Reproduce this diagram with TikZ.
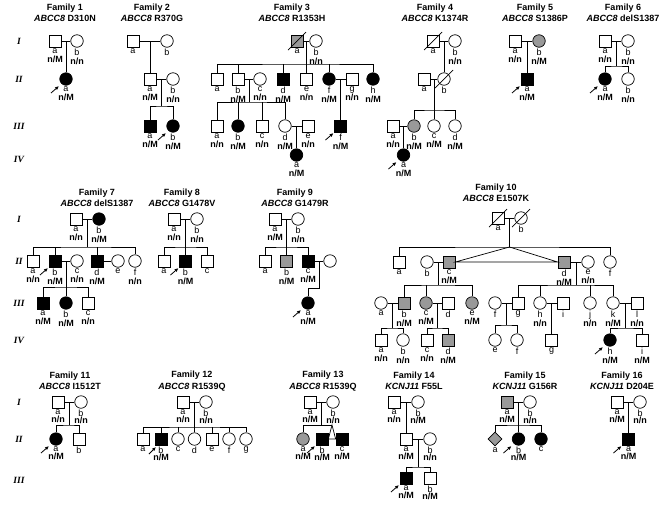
\documentclass[tikz,border=0pt]{standalone}
\usepackage{fontspec}
\setmainfont{Liberation Sans}
\newfontfamily\genfont{Liberation Serif}
\usetikzlibrary{arrows.meta,shapes.geometric,calc}

\begin{document}
\begin{tikzpicture}[x=1pt,y=-1pt,line width=.7pt,
  sq/.style={draw,rectangle,minimum size=12pt,inner sep=0pt,fill=white},
  ci/.style={draw,circle,minimum size=12.5pt,inner sep=0pt,fill=white},
  dm/.style={draw,diamond,minimum size=14pt,inner sep=0pt},
  aff/.style={fill=black},
  car/.style={fill=black!40},
  lab/.style={font=\fontsize{9}{9}\selectfont,align=center,inner sep=1pt},
  lb/.style={label={[lab]below:{\rule{0pt}{5pt}#1}}},
  lbl/.style 2 args={label={[lab]below:{\rule{0pt}{5pt}#1\\\textbf{#2}}}},
  ttl/.style={font=\bfseries\fontsize{9}{11.5}\selectfont,align=center},
  gen/.style={font=\genfont\bfseries\itshape\fontsize{9.5}{10}\selectfont},
  pb/.style={-{Latex[length=4pt,width=3.5pt]},line width=.8pt}
]
\useasboundingbox (0,0) rectangle (664,507);

\foreach \g/\y [count=\n] in {I/41,II/79,III/126,IV/159,I/219,II/261,III/303,IV/340,I/402,II/439,III/480}
  \node[gen] (g\n) at (19,\y) {\g};

\node[ttl] (t1) at (65,13) {Family 1\\\textit{ABCC8} D310N};
\node[ttl] (t2) at (152,13) {Family 2\\\textit{ABCC8} R370G};
\node[ttl] (t3) at (292,13) {Family 3\\\textit{ABCC8} R1353H};
\node[ttl] (t4) at (435,13) {Family 4\\\textit{ABCC8} K1374R};
\node[ttl] (t5) at (535,13) {Family 5\\\textit{ABCC8} S1386P};
\node[ttl] (t6) at (623,13) {Family 6\\\textit{ABCC8} delS1387};
\node[ttl] (t7) at (97,198) {Family 7\\\textit{ABCC8} delS1387};
\node[ttl] (t8) at (182,198) {Family 8\\\textit{ABCC8} G1478V};
\node[ttl] (t9) at (295,198) {Family 9\\\textit{ABCC8} G1479R};
\node[ttl] (t10) at (496,193) {Family 10\\\textit{ABCC8} E1507K};
\node[ttl] (t11) at (70,381) {Family 11\\\textit{ABCC8} I1512T};
\node[ttl] (t12) at (192,381) {Family 12\\\textit{ABCC8} R1539Q};
\node[ttl] (t13) at (323,381) {Family 13\\\textit{ABCC8} R1539Q};
\node[ttl] (t14) at (414,381) {Family 14\\\textit{KCNJ11} F55L};
\node[ttl] (t15) at (525,381) {Family 15\\\textit{KCNJ11} G156R};
\node[ttl] (t16) at (622,381) {Family 16\\\textit{KCNJ11} D204E};

\node[sq,lbl={a}{n/M}] (f1Ia) at (55,41) {};
\node[ci,lbl={b}{n/n}] (f1Ib) at (77,41) {};
\node[ci,aff,lbl={a}{n/M}] (f1IIa) at (66,79) {};
\coordinate (f1m) at ($(f1Ia)!.5!(f1Ib)$);
\draw (f1Ia) -- (f1Ib) (f1m) -- (f1IIa);

\node[sq,lb=a] (f2Ia) at (133,41) {};
\node[ci,lb=b] (f2Ib) at (167,41) {};
\node[sq,lbl={a}{n/M}] (f2IIa) at (150,79) {};
\node[ci,lbl={b}{n/n}] (f2IIb) at (173,79) {};
\node[sq,aff,lbl={a}{n/M}] (f2IIIa) at (150,126) {};
\node[ci,aff,lbl={b}{n/M}] (f2IIIb) at (173,126) {};
\coordinate (f2m) at ($(f2Ia)!.5!(f2Ib)$);
\coordinate (f2n) at ($(f2IIa)!.5!(f2IIb)$);
\coordinate (f2s) at (161.5,106);
\draw (f2Ia) -- (f2Ib) (f2m) -- (f2IIa) (f2IIa) -- (f2IIb) (f2n) -- (f2s);
\draw (f2IIIa) |- (f2s) -| (f2IIIb);

\node[sq,car,lb=a] (f3Ia) at (297,41) {};
\node[ci,lbl={b}{n/n}] (f3Ib) at (316,41) {};
\node[sq,lb=a] (f3IIa) at (217,79) {};
\node[sq,lbl={b}{n/M}] (f3IIb) at (238,79) {};
\node[ci,lbl={c}{n/n}] (f3IIc) at (260,79) {};
\node[sq,aff,lbl={d}{n/M}] (f3IId) at (283,79) {};
\node[sq,lbl={e}{n/n}] (f3IIe) at (306.5,79) {};
\node[ci,aff,lbl={f}{n/M}] (f3IIf) at (329,79) {};
\node[sq,lbl={g}{n/n}] (f3IIg) at (352,79) {};
\node[ci,aff,lbl={h}{n/M}] (f3IIh) at (373,79) {};
\node[sq,lbl={a}{n/n}] (f3IIIa) at (217,126) {};
\node[ci,aff,lbl={b}{n/M}] (f3IIIb) at (238,126) {};
\node[sq,lbl={c}{n/n}] (f3IIIc) at (262,126) {};
\node[ci,lbl={d}{n/M}] (f3IIId) at (285,126) {};
\node[sq,lbl={e}{n/n}] (f3IIIe) at (308,126) {};
\node[sq,aff,lbl={f}{n/M}] (f3IIIf) at (340.5,126) {};
\node[ci,aff,lbl={a}{n/M}] (f3IVa) at (296.5,155) {};
\coordinate (f3m) at ($(f3Ia)!.5!(f3Ib)$);
\coordinate (f3s) at (306.5,64);
\coordinate (f3n) at ($(f3IIb)!.5!(f3IIc)$);
\coordinate (f3t) at (249,102);
\coordinate (f3o) at ($(f3IIf)!.5!(f3IIg)$);
\coordinate (f3p) at ($(f3IIId)!.5!(f3IIIe)$);
\draw (f3Ia) -- (f3Ib) (f3m) -- (f3IIe);
\draw (f3IIa) |- (f3s) -| (f3IIh);
\foreach \k in {b,d,f} \draw (f3II\k) -- (f3II\k |- f3s);
\draw (f3IIb) -- (f3IIc) (f3IIf) -- (f3IIg) (f3IIId) -- (f3IIIe);
\draw (f3n) -- (f3t) (f3o) -- (f3IIIf) (f3p) -- (f3IVa);
\draw (f3IIIa) |- (f3t) -| (f3IIId);
\foreach \k in {b,c} \draw (f3III\k) -- (f3III\k |- f3t);

\node[sq,lb=a] (f4Ia) at (433,41) {};
\node[ci,lbl={b}{n/n}] (f4Ib) at (455,41) {};
\node[sq,lb=a] (f4IIa) at (424,79) {};
\node[ci,lb=b] (f4IIb) at (444,79) {};
\node[sq,lbl={a}{n/n}] (f4IIIa) at (393,126) {};
\node[ci,car,lbl={b}{n/M}] (f4IIIb) at (414,126) {};
\node[ci,lbl={c}{n/M}] (f4IIIc) at (434,126) {};
\node[ci,lbl={d}{n/M}] (f4IIId) at (455,126) {};
\node[ci,aff,lbl={a}{n/M}] (f4IVa) at (403.5,155) {};
\coordinate (f4m) at ($(f4Ia)!.5!(f4Ib)$);
\coordinate (f4n) at ($(f4IIa)!.5!(f4IIb)$);
\coordinate (f4s) at (434,110);
\coordinate (f4o) at ($(f4IIIa)!.5!(f4IIIb)$);
\draw (f4Ia) -- (f4Ib) (f4m) -- (f4IIb) (f4IIa) -- (f4IIb) (f4n) -- (f4IIIc);
\draw (f4IIIb) |- (f4s) -| (f4IIId);
\draw (f4IIIa) -- (f4IIIb) (f4o) -- (f4IVa);

\node[sq,lbl={a}{n/n}] (f5Ia) at (515,41) {};
\node[ci,car,lbl={b}{n/M}] (f5Ib) at (539,41) {};
\node[sq,aff,lbl={a}{n/M}] (f5IIa) at (527,79) {};
\coordinate (f5m) at ($(f5Ia)!.5!(f5Ib)$);
\draw (f5Ia) -- (f5Ib) (f5m) -- (f5IIa);

\node[sq,lbl={a}{n/n}] (f6Ia) at (605,41) {};
\node[ci,lbl={b}{n/n}] (f6Ib) at (628,41) {};
\node[ci,aff,lbl={a}{n/M}] (f6IIa) at (605,79) {};
\node[ci,lbl={b}{n/n}] (f6IIb) at (628,79) {};
\coordinate (f6m) at ($(f6Ia)!.5!(f6Ib)$);
\coordinate (f6s) at (616.5,66);
\draw (f6Ia) -- (f6Ib) (f6m) -- (f6s);
\draw (f6IIa) |- (f6s) -| (f6IIb);

\node[sq,lbl={a}{n/n}] (f7Ia) at (76,219) {};
\node[ci,aff,lbl={b}{n/M}] (f7Ib) at (99,219) {};
\node[sq,lbl={a}{n/n}] (f7IIa) at (33,261) {};
\node[sq,aff,lbl={b}{n/M}] (f7IIb) at (55,261) {};
\node[ci,lbl={c}{n/n}] (f7IIc) at (77,261) {};
\node[sq,aff,lbl={d}{n/M}] (f7IId) at (97,261) {};
\node[ci,lb=e] (f7IIe) at (118,261) {};
\node[ci,lbl={f}{n/n}] (f7IIf) at (135,261) {};
\node[sq,aff,lbl={a}{n/M}] (f7IIIa) at (43,303) {};
\node[ci,aff,lbl={b}{n/M}] (f7IIIb) at (66,303) {};
\node[sq,lbl={c}{n/n}] (f7IIIc) at (88,303) {};
\coordinate (f7m) at ($(f7Ia)!.5!(f7Ib)$);
\coordinate (f7s) at (87.5,247);
\coordinate (f7n) at ($(f7IIb)!.5!(f7IIc)$);
\coordinate (f7t) at (66,287);
\draw (f7Ia) -- (f7Ib) (f7m) -- (f7s);
\draw (f7IIa) |- (f7s) -| (f7IIf);
\foreach \k in {b,d} \draw (f7II\k) -- (f7II\k |- f7s);
\draw (f7IIb) -- (f7IIc) (f7IId) -- (f7IIe) (f7n) -- (f7IIIb);
\draw (f7IIIa) |- (f7t) -| (f7IIIc);

\node[sq,lbl={a}{n/n}] (f8Ia) at (174,219) {};
\node[ci,lbl={b}{n/n}] (f8Ib) at (197,219) {};
\node[sq,lb=a] (f8IIa) at (164,261) {};
\node[sq,aff,lbl={b}{n/M}] (f8IIb) at (185.5,261) {};
\node[sq,lb=c] (f8IIc) at (207,261) {};
\coordinate (f8m) at ($(f8Ia)!.5!(f8Ib)$);
\coordinate (f8s) at (185.5,247);
\draw (f8Ia) -- (f8Ib) (f8m) -- (f8IIb);
\draw (f8IIa) |- (f8s) -| (f8IIc);

\node[sq,lbl={a}{n/M}] (f9Ia) at (275,219) {};
\node[ci,lbl={b}{n/n}] (f9Ib) at (298,219) {};
\node[sq,lb=a] (f9IIa) at (265,261) {};
\node[sq,car,lbl={b}{n/M}] (f9IIb) at (286.5,261) {};
\node[sq,aff,lbl={c}{n/M}] (f9IIc) at (308,261) {};
\node[ci] (f9IId) at (330,261) {};
\node[ci,aff,lbl={a}{n/M}] (f9IIIa) at (308,303) {};
\coordinate (f9m) at ($(f9Ia)!.5!(f9Ib)$);
\coordinate (f9s) at (286.5,247);
\coordinate (f9n) at ($(f9IIc)!.5!(f9IId)$);
\coordinate (f9t) at (319,288);
\draw (f9Ia) -- (f9Ib) (f9m) -- (f9IIb);
\draw (f9IIa) |- (f9s) -| (f9IIc);
\draw (f9IIc) -- (f9IId) (f9n) -- (f9t) -| (f9IIIa);

\node[sq,lb=a] (f10Ia) at (498,218) {};
\node[ci,lb=b] (f10Ib) at (521,218) {};
\node[sq,lb=a] (f10IIa) at (399,262) {};
\node[ci,lb=b] (f10IIb) at (427,262) {};
\node[sq,car,lbl={c}{n/M}] (f10IIc) at (449,262) {};
\node[sq,car,lbl={d}{n/M}] (f10IId) at (564,262) {};
\node[ci,lbl={e}{n/n}] (f10IIe) at (588,262) {};
\node[ci,lb=f] (f10IIf) at (610,262) {};
\node[ci,lb=a] (f10IIIa) at (381,303) {};
\node[sq,car,lbl={b}{n/M}] (f10IIIb) at (404,303) {};
\node[ci,car,lbl={c}{n/M}] (f10IIIc) at (426,303) {};
\node[sq,lb=d] (f10IIId) at (448,303) {};
\node[ci,car,lbl={e}{n/M}] (f10IIIe) at (472,303) {};
\node[ci,lb=f] (f10IIIf) at (495,303) {};
\node[sq,lb=g] (f10IIIg) at (518,303) {};
\node[ci,lbl={h}{n/n}] (f10IIIh) at (540,303) {};
\node[sq,lb=i] (f10IIIi) at (563,303) {};
\node[ci,lbl={j}{n/n}] (f10IIIj) at (590,303) {};
\node[ci,lbl={k}{n/M}] (f10IIIk) at (613,303) {};
\node[sq,lbl={l}{n/n}] (f10IIIl) at (637,303) {};
\node[sq,lbl={a}{n/n}] (f10IVa) at (381,340) {};
\node[ci,lbl={b}{n/n}] (f10IVb) at (403,340) {};
\node[sq,lbl={c}{n/n}] (f10IVc) at (427,340) {};
\node[sq,car,lbl={d}{n/M}] (f10IVd) at (448,340) {};
\node[ci,lb=e] (f10IVe) at (495,340) {};
\node[ci,lb=f] (f10IVf) at (517,340) {};
\node[sq,lb=g] (f10IVg) at (551.5,340) {};
\node[ci,aff,lbl={h}{n/M}] (f10IVh) at (610,340) {};
\node[sq,lbl={i}{n/M}] (f10IVi) at (642,340) {};
\coordinate (f10m) at ($(f10Ia)!.5!(f10Ib)$);
\coordinate (f10t) at (509.5,247);
\draw (f10Ia) -- (f10Ib) (f10m) -- (f10t);
\draw (f10IIa) |- (f10t) -| (f10IIf);
\draw (f10IIc.east) -- (f10t) -- (f10IId.west) -- cycle;
\draw (f10IIb) -- (f10IIc) (f10IId) -- (f10IIe);
\coordinate (f10n) at ($(f10IIb)!.5!(f10IIc)$);
\coordinate (f10s) at (438,285);
\draw (f10n) -- (f10s) (f10IIIb) |- (f10s) -| (f10IIIe) (f10IIIc) -- (f10IIIc |- f10s);
\coordinate (f10o) at ($(f10IId)!.5!(f10IIe)$);
\coordinate (f10r) at (576,285);
\draw (f10o) -- (f10r) (f10IIIg) |- (f10r) -| (f10IIIk);
\foreach \k in {h,j} \draw (f10III\k) -- (f10III\k |- f10r);
\foreach \u/\v in {a/b,c/d,f/g,h/i,k/l} \draw (f10III\u) -- (f10III\v);
\coordinate (f10p1) at ($(f10IIIa)!.5!(f10IIIb)$);
\coordinate (f10q1) at (392.5,328);
\coordinate (f10p2) at ($(f10IIIc)!.5!(f10IIId)$);
\coordinate (f10q2) at (437,328);
\coordinate (f10p3) at ($(f10IIIf)!.5!(f10IIIg)$);
\coordinate (f10q3) at (506.5,325);
\coordinate (f10p4) at ($(f10IIIh)!.5!(f10IIIi)$);
\coordinate (f10p5) at ($(f10IIIk)!.5!(f10IIIl)$);
\coordinate (f10q5) at (625,328);
\draw (f10p1) -- (f10q1) (f10IVa) |- (f10q1) -| (f10IVb);
\draw (f10p2) -- (f10q2) (f10IVc) |- (f10q2) -| (f10IVd);
\draw (f10p3) -- (f10q3) (f10IVe) |- (f10q3) -| (f10IVf);
\draw (f10p4) -- (f10IVg);
\draw (f10p5) -- (f10q5) (f10IVh) |- (f10q5) -| (f10IVi);

\begin{scope}[lab/.append style={font=\fontsize{9}{7.5}\selectfont}]
\node[sq,lbl={a}{n/n}] (f11Ia) at (58,402) {};
\node[ci,lbl={b}{n/n}] (f11Ib) at (81,402) {};
\node[ci,aff,lbl={a}{n/M}] (f11IIa) at (56,439) {};
\node[sq,lb=b] (f11IIb) at (79,439) {};
\coordinate (f11m) at ($(f11Ia)!.5!(f11Ib)$);
\coordinate (f11s) at (69.5,425);
\draw (f11Ia) -- (f11Ib) (f11m) -- (f11s) (f11IIa) |- (f11s) -| (f11IIb);

\node[sq,lbl={a}{n/n}] (f12Ia) at (183,402) {};
\node[ci,lbl={b}{n/n}] (f12Ib) at (206,402) {};
\node[sq,lb=a] (f12IIa) at (143,439) {};
\node[sq,aff,lbl={b}{n/M}] (f12IIb) at (161,439) {};
\node[ci,lb=c] (f12IIc) at (178,439) {};
\node[ci,lb=d] (f12IId) at (194.5,439) {};
\node[sq,lb=e] (f12IIe) at (212,439) {};
\node[ci,lb=f] (f12IIf) at (229,439) {};
\node[ci,lb=g] (f12IIg) at (246,439) {};
\coordinate (f12m) at ($(f12Ia)!.5!(f12Ib)$);
\coordinate (f12s) at (194.5,427);
\draw (f12Ia) -- (f12Ib) (f12m) -- (f12IId) (f12IIa) |- (f12s) -| (f12IIg);
\foreach \k in {b,c,e,f} \draw (f12II\k) -- (f12II\k |- f12s);

\node[sq,lbl={a}{n/M}] (f13Ia) at (310,402) {};
\node[ci,lbl={b}{n/n}] (f13Ib) at (333,402) {};
\node[ci,car,lbl={a}{n/M}] (f13IIa) at (303,439) {};
\node[sq,aff,lbl={b}{n/M}] (f13IIb) at (322,439) {};
\node[sq,aff,lbl={c}{n/M}] (f13IIc) at (342,439) {};
\coordinate (f13m) at ($(f13Ia)!.5!(f13Ib)$);
\coordinate (f13t) at (332,425);
\draw (f13Ia) -- (f13Ib) (f13m) -- (f13m |- f13t) (f13IIa) |- (f13t);
\draw (f13IIb.east) -- (f13t) -- (f13IIc.west) -- cycle;

\node[sq,lbl={a}{n/n}] (f14Ia) at (394,402) {};
\node[ci,lbl={b}{n/M}] (f14Ib) at (418,402) {};
\node[sq,lbl={a}{n/M}] (f14IIa) at (406,439) {};
\node[ci,lbl={b}{n/n}] (f14IIb) at (430,439) {};
\node[sq,aff,lbl={a}{n/M}] (f14IIIa) at (406,478) {};
\node[sq,lbl={b}{n/M}] (f14IIIb) at (430,478) {};
\coordinate (f14m) at ($(f14Ia)!.5!(f14Ib)$);
\coordinate (f14n) at ($(f14IIa)!.5!(f14IIb)$);
\coordinate (f14s) at (418,467);
\draw (f14Ia) -- (f14Ib) (f14m) -- (f14IIa) (f14IIa) -- (f14IIb) (f14n) -- (f14s);
\draw (f14IIIa) |- (f14s) -| (f14IIIb);

\node[sq,car,lbl={a}{n/M}] (f15Ia) at (507,402) {};
\node[ci,lbl={b}{n/n}] (f15Ib) at (530,402) {};
\node[dm,car,lb=a] (f15IIa) at (495,439) {};
\node[ci,aff,lbl={b}{n/M}] (f15IIb) at (518.5,439) {};
\node[ci,aff,lb=c] (f15IIc) at (541,439) {};
\coordinate (f15m) at ($(f15Ia)!.5!(f15Ib)$);
\coordinate (f15s) at (518.5,425);
\draw (f15Ia) -- (f15Ib) (f15m) -- (f15IIb) (f15IIa) |- (f15s) -| (f15IIc);

\node[sq,lbl={a}{n/M}] (f16Ia) at (617,402) {};
\node[ci,lbl={b}{n/n}] (f16Ib) at (640,402) {};
\node[sq,aff,lbl={a}{n/M}] (f16IIa) at (628.5,439) {};
\coordinate (f16m) at ($(f16Ia)!.5!(f16Ib)$);
\draw (f16Ia) -- (f16Ib) (f16m) -- (f16IIa);
\end{scope}

\foreach \p in {f3Ia,f4Ia,f4IIb,f10Ia,f10Ib}
  \draw ([shift={(-9,9)}]\p.center) -- ([shift={(9,-9)}]\p.center);
\foreach \p in {f1IIa,f2IIIb,f3IIIf,f4IVa,f5IIa,f6IIa,f7IIb,f8IIb,f9IIIa,f10IVh,f11IIa,f13IIb,f14IIIa,f15IIb,f16IIa}
  \draw[pb] ([shift={(-15,14)}]\p.center) -- ([shift={(-7,7)}]\p.center);
\draw[pb] ([shift={(-12,15)}]f12IIb.center) -- ([shift={(-5,8)}]f12IIb.center);
\end{tikzpicture}
\end{document}
